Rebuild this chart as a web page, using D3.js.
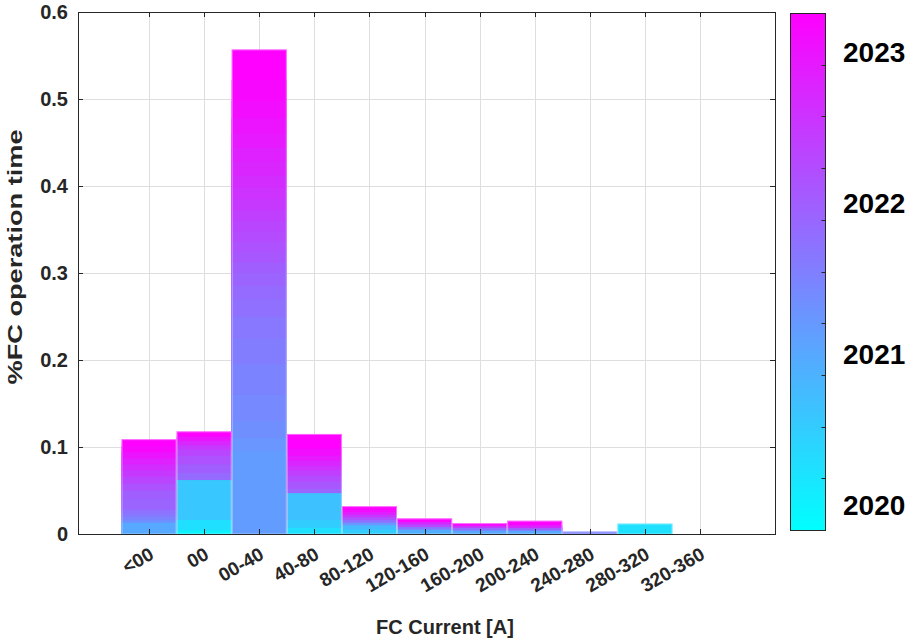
<!DOCTYPE html>
<html>
<head>
<meta charset="utf-8">
<script src="https://cdn.jsdelivr.net/npm/d3@7"></script>
<style>
  body { margin: 0; background: #fff; }
  svg { display: block; }
  text { font-family: "Liberation Sans", Arial, Helvetica, sans-serif; font-weight: bold; }
</style>
</head>
<body>
<svg id="chart" width="915" height="642"></svg>
<script>
// FC current bins (x axis)
const categories = ["<00", "00", "00-40", "40-80", "80-120", "120-160",
                    "160-200", "200-240", "240-280", "280-320", "320-360"];

// Share of FC operation time per bin, by month of the histogram snapshot.
// Months not listed have no time in that bin.
const shareLt00 = [["2021-01", 0.013], ["2021-05", 0.016], ["2021-07", 0.020], ["2021-09", 0.024],
  ["2021-10", 0.028], ["2021-12", 0.040], ["2022-01", 0.050], ["2022-03", 0.058], ["2022-05", 0.066],
  ["2022-07", 0.073], ["2022-09", 0.080], ["2022-11", 0.087], ["2023-01", 0.094], ["2023-03", 0.101],
  ["2023-04", 0.109]];
const share00 = [["2020-01", 0.004], ["2020-04", 0.016], ["2020-08", 0.062], ["2021-11", 0.070],
  ["2022-01", 0.080], ["2022-03", 0.090], ["2022-05", 0.097], ["2022-07", 0.102], ["2022-10", 0.107],
  ["2023-01", 0.112], ["2023-04", 0.118]];
const share00to40 = [["2021-03", 0.095], ["2021-04", 0.110], ["2021-05", 0.130], ["2021-06", 0.160],
  ["2021-07", 0.195], ["2021-08", 0.225], ["2021-09", 0.250], ["2021-10", 0.270], ["2021-11", 0.285],
  ["2021-12", 0.300], ["2022-01", 0.312], ["2022-02", 0.324], ["2022-03", 0.336], ["2022-04", 0.348],
  ["2022-05", 0.360], ["2022-06", 0.372], ["2022-07", 0.385], ["2022-08", 0.398], ["2022-09", 0.412],
  ["2022-10", 0.428], ["2022-11", 0.444], ["2022-12", 0.460], ["2023-01", 0.478], ["2023-02", 0.498],
  ["2023-03", 0.522], ["2023-04", 0.557]];
const share40to80 = [["2020-04", 0.007], ["2020-07", 0.016], ["2020-09", 0.047], ["2021-12", 0.052],
  ["2022-02", 0.060], ["2022-04", 0.067], ["2022-06", 0.073], ["2022-08", 0.078], ["2022-10", 0.084],
  ["2022-12", 0.090], ["2023-02", 0.098], ["2023-04", 0.115]];
const share80to120 = [["2020-07", 0.005], ["2020-10", 0.010], ["2021-04", 0.013], ["2021-10", 0.016],
  ["2022-03", 0.019], ["2022-07", 0.022], ["2022-11", 0.025], ["2023-02", 0.028], ["2023-04", 0.032]];
const share120to160 = [["2020-12", 0.005], ["2021-09", 0.008], ["2022-04", 0.011], ["2022-10", 0.014],
  ["2023-04", 0.018]];
const share160to200 = [["2021-01", 0.004], ["2021-11", 0.007], ["2022-07", 0.0095], ["2023-04", 0.0125]];
const share200to240 = [["2021-01", 0.004], ["2022-01", 0.007], ["2022-10", 0.010], ["2023-04", 0.0153]];
const share240to280 = [["2021-07", 0.003]];
const share280to320 = [["2020-04", 0.012]];
const share320to360 = [];

const seriesByBin = [shareLt00, share00, share00to40, share40to80, share80to120, share120to160,
  share160to200, share200to240, share240to280, share280to320, share320to360];

const yTicks = [0, 0.1, 0.2, 0.3, 0.4, 0.5, 0.6];
const yTickLabels = ["0", "0.1", "0.2", "0.3", "0.4", "0.5", "0.6"];
const yearLabels = [2020, 2021, 2022, 2023];

const svg = d3.select("#chart");
const ink = "#262626";

// "YYYY-MM" -> decimal year
const toYear = s => { const [yy, mm] = s.split("-").map(Number); return yy + (mm - 1) / 12; };

// Axes box
const box = { left: 78, right: 775, top: 12, bottom: 534 };

const x = d3.scaleBand().domain(categories).range([121.5, 727.6]).padding(0);
const y = d3.scaleLinear().domain([0, 0.6]).range([box.bottom, box.top]);

// Colour runs along time with the "cool" colormap (cyan -> magenta)
const timeDomain = [2019.834, 2023.258];
const colour = d3.scaleLinear().domain(timeDomain).range(["#00ffff", "#ff00ff"])
  .interpolate(d3.interpolateRgb);

// Grid
const grid = svg.append("g");
grid.selectAll("line.v").data(categories).join("line")
  .attr("x1", d => Math.round(x(d) + x.bandwidth() / 2) + 0.5)
  .attr("x2", d => Math.round(x(d) + x.bandwidth() / 2) + 0.5)
  .attr("y1", box.top).attr("y2", box.bottom)
  .attr("stroke", "#dedede").attr("stroke-width", 1);
grid.selectAll("line.h").data(yTicks.slice(1, -1)).join("line")
  .attr("x1", box.left).attr("x2", box.right)
  .attr("y1", d => Math.round(y(d)) + 0.5).attr("y2", d => Math.round(y(d)) + 0.5)
  .attr("stroke", "#dedede").attr("stroke-width", 1);

// Overlaid monthly histograms: taller bars behind, shorter in front
const marks = [];
seriesByBin.forEach((series, j) => {
  series.forEach(([month, v]) => {
    if (v > 0) marks.push({ c: categories[j], t: toYear(month), v });
  });
});
marks.sort((a, b) => b.v - a.v);

svg.append("g").selectAll("rect").data(marks).join("rect")
  .attr("x", d => x(d.c))
  .attr("width", x.bandwidth())
  .attr("y", d => y(d.v))
  .attr("height", d => y(0) - y(d.v))
  .attr("fill", d => colour(d.t));

// Light outline around each bin's tallest bar
const tallest = categories.map((c, j) => ({ c, v: d3.max(seriesByBin[j], r => r[1]) || 0 }))
  .filter(d => d.v > 0);
svg.append("g").selectAll("rect").data(tallest).join("rect")
  .attr("x", d => x(d.c) + 0.5)
  .attr("width", x.bandwidth() - 1)
  .attr("y", d => y(d.v) + 0.5)
  .attr("height", d => y(0) - y(d.v) - 0.5)
  .attr("fill", "none")
  .attr("stroke", "rgba(255,255,255,0.4)")
  .attr("stroke-width", 1);

// Frame
svg.append("rect")
  .attr("x", box.left + 0.5).attr("y", box.top + 0.5)
  .attr("width", box.right - box.left).attr("height", box.bottom - box.top)
  .attr("fill", "none").attr("stroke", ink).attr("stroke-width", 1);

// Inward ticks on all four sides
const tk = 5;
const ticks = svg.append("g").attr("stroke", ink).attr("stroke-width", 1);
categories.forEach(c => {
  const cx = Math.round(x(c) + x.bandwidth() / 2) + 0.5;
  ticks.append("line").attr("x1", cx).attr("x2", cx).attr("y1", box.bottom).attr("y2", box.bottom - tk);
  ticks.append("line").attr("x1", cx).attr("x2", cx).attr("y1", box.top).attr("y2", box.top + tk);
});
yTicks.forEach(t => {
  const cy = Math.round(y(t)) + 0.5;
  ticks.append("line").attr("x1", box.left).attr("x2", box.left + tk).attr("y1", cy).attr("y2", cy);
  ticks.append("line").attr("x1", box.right).attr("x2", box.right - tk).attr("y1", cy).attr("y2", cy);
});

// Y tick labels
svg.append("g").selectAll("text").data(yTicks).join("text")
  .attr("x", 68).attr("y", d => y(d))
  .attr("dy", "0.36em")
  .attr("text-anchor", "end")
  .attr("font-size", 20)
  .attr("fill", ink)
  .text((d, i) => yTickLabels[i]);

// X tick labels, rotated
svg.append("g").selectAll("text").data(categories).join("text")
  .attr("transform", d => `translate(${x(d) + x.bandwidth() / 2 + 6},${box.bottom + 24}) rotate(-30)`)
  .attr("text-anchor", "end")
  .attr("font-size", 19)
  .attr("fill", ink)
  .text(d => d);

// Axis titles
svg.append("text")
  .attr("x", 445).attr("y", 634)
  .attr("text-anchor", "middle")
  .attr("font-size", 20)
  .attr("fill", ink)
  .text("FC Current [A]");

svg.append("text")
  .attr("transform", "translate(22,257) rotate(-90)")
  .attr("text-anchor", "middle")
  .attr("font-size", 21)
  .attr("textLength", 255)
  .attr("lengthAdjust", "spacingAndGlyphs")
  .attr("fill", ink)
  .text("%FC operation time");

// Colorbar
const cb = { x: 790, y0: 13, y1: 530, w: 35 };
const defs = svg.append("defs");
const grad = defs.append("linearGradient").attr("id", "cool")
  .attr("x1", 0).attr("y1", 1).attr("x2", 0).attr("y2", 0);
grad.append("stop").attr("offset", "0%").attr("stop-color", colour(timeDomain[0]));
grad.append("stop").attr("offset", "100%").attr("stop-color", colour(timeDomain[1]));

const cbScale = d3.scaleLinear().domain(timeDomain).range([cb.y1, cb.y0]);

svg.append("rect")
  .attr("x", cb.x + 0.5).attr("y", cb.y0 + 0.5)
  .attr("width", cb.w).attr("height", cb.y1 - cb.y0)
  .attr("fill", "url(#cool)")
  .attr("stroke", ink).attr("stroke-width", 1);

const cbTicks = d3.range(1, 10).map(i => timeDomain[0] + i / 10 * (timeDomain[1] - timeDomain[0]));
svg.append("g").selectAll("line").data(cbTicks).join("line")
  .attr("x1", cb.x + cb.w + 0.5).attr("x2", cb.x + cb.w - 3.5)
  .attr("y1", d => Math.round(cbScale(d)) + 0.5).attr("y2", d => Math.round(cbScale(d)) + 0.5)
  .attr("stroke", ink).attr("stroke-width", 1);

svg.append("g").selectAll("text").data(yearLabels).join("text")
  .attr("x", 843).attr("y", d => cbScale(d))
  .attr("dy", "0.36em")
  .attr("font-size", 28)
  .attr("fill", "#000")
  .text(d => d);
</script>
</body>
</html>
